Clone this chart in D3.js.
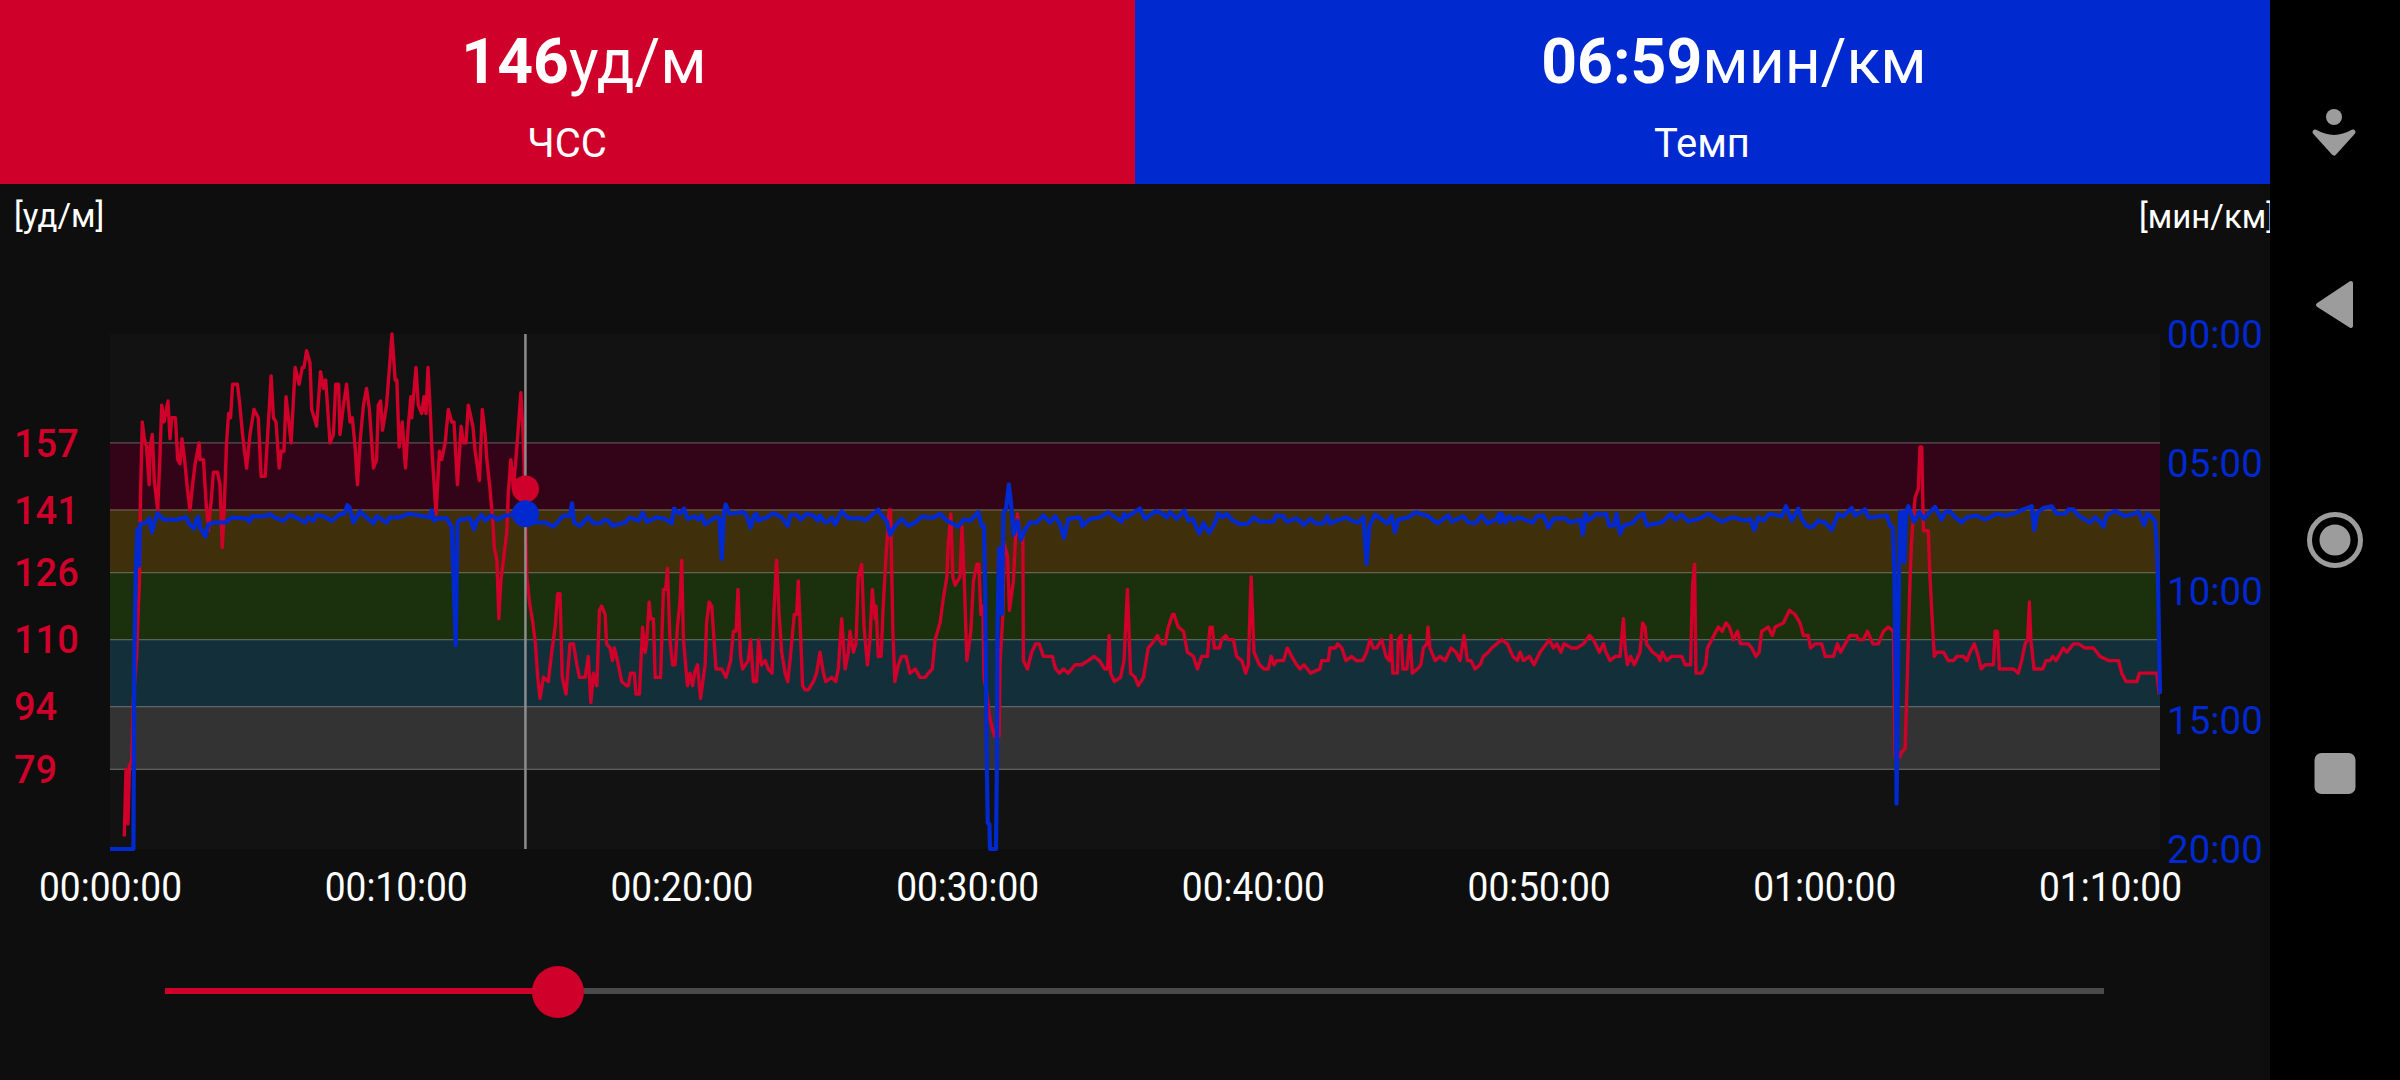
<!DOCTYPE html>
<html>
<head>
<meta charset="utf-8">
<script src="https://cdn.jsdelivr.net/npm/d3@7"></script>
<style>
  html, body { margin: 0; background: #0e0e0e; overflow: hidden; }
  svg { display: block; font-family: Roboto, sans-serif; }
</style>
</head>
<body>
<script>
// heart rate zones, from the top edge down to the bottom edge of each band
const zoneEdges = [157, 141, 126, 110, 94, 79];
const zoneColors = ["#330418", "#402f0b", "#1b300c", "#13303a", "#333333"];

const hrTicks = [157, 141, 126, 110, 94, 79];
const paceTicks = [0, 5, 10, 15, 20];
const timeTicks = [0, 10, 20, 30, 40, 50, 60, 70];

// cursor readout
const cursorTime = 14.54;
const cursorHr = 146;
const cursorPace = 6.98;
const duration = 71.75;

// [minutes, bpm]
const hrData = [
  [0.50,63],[0.56,79],[0.63,66],[0.68,80],[0.76,81],[0.82,96],[0.93,106],[1.03,124],[1.07,145],[1.13,162],
  [1.20,158],[1.28,156],[1.37,147],[1.40,156],[1.48,159],[1.55,148],[1.67,141],[1.75,154],[1.81,166],[1.89,162],
  [2.03,167],[2.10,158],[2.16,163],[2.29,163],[2.37,153],[2.45,152],[2.52,158],[2.61,153],[2.71,146],[2.80,141],
  [2.89,147],[2.98,152],[3.12,157],[3.15,153],[3.27,153],[3.36,143],[3.44,136],[3.54,143],[3.62,150],[3.76,150],
  [3.85,147],[3.93,132],[3.99,140],[4.08,157],[4.15,164],[4.22,163],[4.29,171],[4.46,171],[4.53,167],[4.64,159],
  [4.78,151],[4.90,159],[5.04,165],[5.19,163],[5.29,149],[5.43,149],[5.52,159],[5.64,173],[5.72,163],[5.81,162],
  [5.92,151],[5.99,155],[6.09,155],[6.16,168],[6.34,157],[6.48,175],[6.62,171],[6.73,175],[6.79,175],[6.88,179],
  [7.00,176],[7.06,165],[7.23,161],[7.37,174],[7.47,170],[7.55,172],[7.70,157],[7.82,159],[7.90,171],[8.00,171],
  [8.05,159],[8.17,166],[8.28,171],[8.40,162],[8.48,163],[8.58,156],[8.66,147],[8.75,157],[8.87,166],[8.98,170],
  [9.08,165],[9.22,151],[9.33,153],[9.39,166],[9.47,167],[9.54,160],[9.68,166],[9.78,175],[9.87,183],[9.98,172],
  [10.04,172],[10.12,156],[10.23,162],[10.34,151],[10.44,161],[10.53,168],[10.56,163],[10.71,175],[10.79,166],[10.91,164],
  [10.99,168],[11.06,164],[11.13,175],[11.20,166],[11.27,155],[11.41,140],[11.53,155],[11.61,153],[11.73,157],[11.84,165],
  [11.96,162],[12.04,162],[12.16,147],[12.29,161],[12.37,157],[12.46,157],[12.54,166],[12.70,161],[12.78,155],[12.93,148],
  [13.03,165],[13.13,159],[13.19,153],[13.30,146],[13.40,138],[13.45,132],[13.54,129],[13.61,115],[13.68,124],[13.77,129],
  [13.89,136],[13.94,145],[14.03,153],[14.12,146],[14.24,156],[14.38,169],[14.45,160],[14.49,153],[14.59,125],[14.68,119],
  [14.80,114],[14.89,109],[14.97,101],[15.05,96],[15.17,101],[15.34,100],[15.46,107],[15.58,113],[15.67,121],[15.75,121],
  [15.83,101],[15.96,97],[16.10,109],[16.22,109],[16.34,104],[16.43,101],[16.63,101],[16.74,106],[16.83,95],[16.92,102],
  [17.04,99],[17.13,117],[17.21,118],[17.33,116],[17.38,109],[17.50,108],[17.59,105],[17.65,108],[17.76,105],[17.91,100],
  [18.08,99],[18.14,99],[18.22,102],[18.35,102],[18.41,97],[18.53,97],[18.64,113],[18.73,107],[18.78,109],[18.87,119],
  [18.92,115],[19.02,115],[19.08,101],[19.27,101],[19.37,122],[19.45,122],[19.51,127],[19.60,110],[19.69,104],[19.78,104],
  [19.86,113],[19.95,119],[20.01,129],[20.07,110],[20.21,99],[20.30,102],[20.39,99],[20.46,102],[20.56,104],[20.67,96],
  [20.83,104],[20.88,114],[20.97,119],[21.06,118],[21.21,103],[21.41,103],[21.56,101],[21.72,105],[21.82,112],[21.91,112],
  [21.98,122],[22.07,106],[22.14,103],[22.34,105],[22.42,110],[22.52,100],[22.63,100],[22.70,110],[22.80,104],[22.93,105],
  [23.04,103],[23.17,102],[23.24,117],[23.33,129],[23.42,116],[23.51,107],[23.63,102],[23.72,100],[23.80,105],[23.95,116],
  [24.03,116],[24.09,124],[24.19,108],[24.24,99],[24.33,98],[24.44,98],[24.62,100],[24.73,102],[24.85,107],[24.97,102],
  [25.05,100],[25.26,101],[25.40,100],[25.49,103],[25.55,109],[25.61,115],[25.73,103],[25.84,107],[25.90,112],[26.02,107],
  [26.11,109],[26.19,125],[26.31,128],[26.39,113],[26.51,104],[26.60,110],[26.68,122],[26.78,115],[26.81,118],[26.89,106],
  [26.99,106],[27.07,119],[27.16,130],[27.27,141],[27.32,141],[27.40,112],[27.47,100],[27.59,104],[27.71,106],[27.86,106],
  [28.00,102],[28.18,103],[28.35,101],[28.53,101],[28.64,102],[28.78,103],[28.88,110],[29.05,114],[29.17,120],[29.29,125],
  [29.34,133],[29.43,140],[29.50,125],[29.58,123],[29.75,125],[29.82,137],[29.90,124],[29.99,105],[30.13,112],[30.22,124],
  [30.34,128],[30.41,128],[30.48,116],[30.55,118],[30.59,101],[30.69,97],[30.80,91],[30.95,87],[31.12,87],[31.15,104],
  [31.25,116],[31.29,133],[31.41,130],[31.48,117],[31.56,121],[31.62,124],[31.69,134],[31.76,140],[31.85,135],[31.95,135],
  [31.97,105],[32.11,103],[32.26,107],[32.40,109],[32.52,109],[32.67,106],[32.98,106],[33.10,103],[33.23,102],[33.37,103],
  [33.54,102],[33.78,104],[34.01,104],[34.24,105],[34.44,106],[34.63,105],[34.81,103],[34.91,103],[34.97,111],[35.02,102],
  [35.15,100],[35.37,101],[35.49,105],[35.61,122],[35.72,102],[35.88,101],[35.99,99],[36.17,101],[36.34,108],[36.46,109],
  [36.66,111],[36.81,109],[36.93,109],[37.04,113],[37.19,116],[37.24,116],[37.39,113],[37.57,112],[37.71,107],[37.92,106],
  [38.06,103],[38.21,106],[38.41,106],[38.50,113],[38.58,113],[38.65,108],[38.83,108],[38.91,110],[39.05,111],[39.14,110],
  [39.32,110],[39.43,106],[39.61,105],[39.75,102],[39.84,104],[39.94,125],[40.04,107],[40.23,104],[40.39,103],[40.54,103],
  [40.64,106],[40.74,104],[40.83,105],[41.07,105],[41.21,108],[41.36,106],[41.53,104],[41.65,103],[41.79,104],[42.02,102],
  [42.35,103],[42.41,105],[42.64,105],[42.70,108],[42.88,108],[42.97,109],[43.11,108],[43.26,105],[43.46,106],[43.61,105],
  [43.84,105],[43.98,107],[44.10,110],[44.22,108],[44.33,108],[44.51,110],[44.66,106],[44.78,105],[44.84,111],[44.90,102],
  [45.06,102],[45.09,110],[45.19,111],[45.25,103],[45.39,103],[45.50,111],[45.58,102],[45.76,103],[45.88,104],[45.97,108],
  [46.09,109],[46.13,113],[46.20,108],[46.38,105],[46.55,106],[46.73,105],[46.94,108],[47.11,107],[47.25,105],[47.39,111],
  [47.51,105],[47.63,105],[47.78,103],[47.95,104],[48.07,106],[48.24,107],[48.36,108],[48.54,109],[48.71,110],[48.91,109],
  [49.10,106],[49.26,105],[49.35,107],[49.47,105],[49.68,106],[49.84,104],[50.05,107],[50.38,110],[50.52,108],[50.64,109],
  [50.78,107],[50.89,109],[51.16,108],[51.34,108],[51.57,109],[51.78,111],[51.92,110],[52.13,107],[52.27,109],[52.36,107],
  [52.50,105],[52.68,106],[52.85,106],[52.97,115],[53.03,108],[53.11,104],[53.22,106],[53.35,104],[53.55,107],[53.64,114],
  [53.73,113],[53.78,109],[53.99,107],[54.19,106],[54.25,105],[54.33,107],[54.48,105],[54.66,106],[55.01,106],[55.13,104],
  [55.32,104],[55.39,123],[55.46,128],[55.51,102],[55.71,102],[55.85,104],[55.91,108],[56.06,110],[56.29,113],[56.43,112],
  [56.56,114],[56.68,113],[56.82,110],[56.96,112],[57.07,109],[57.34,109],[57.46,108],[57.61,106],[57.72,107],[57.81,112],
  [58.04,113],[58.18,111],[58.28,113],[58.57,114],[58.78,117],[58.98,116],[59.15,114],[59.27,111],[59.44,111],[59.52,108],
  [59.68,109],[59.91,109],[60.03,106],[60.32,106],[60.46,109],[60.57,107],[60.73,109],[60.90,111],[61.13,111],[61.19,110],
  [61.37,110],[61.51,112],[61.70,109],[61.89,109],[62.07,112],[62.24,113],[62.42,112],[62.48,82],[62.65,82],[62.69,83],
  [62.83,84],[62.91,102],[63.00,124],[63.06,134],[63.18,144],[63.29,146],[63.35,156],[63.41,156],[63.47,136],[63.64,136],
  [63.70,125],[63.76,117],[63.85,106],[63.94,107],[64.17,107],[64.34,105],[64.52,105],[64.64,106],[64.87,106],[64.99,105],
  [65.10,107],[65.25,109],[65.39,106],[65.49,103],[65.63,104],[65.92,104],[65.98,112],[66.06,112],[66.13,103],[66.62,103],
  [66.79,102],[66.91,105],[67.03,109],[67.12,110],[67.18,119],[67.23,110],[67.34,103],[67.65,103],[67.76,105],[67.90,105],
  [68.00,106],[68.11,105],[68.37,108],[68.49,107],[68.72,109],[68.89,109],[69.13,108],[69.42,108],[69.54,107],[69.65,106],
  [69.95,105],[70.30,105],[70.41,102],[70.56,100],[70.94,100],[71.03,102],[71.64,102],[71.72,97]
];

// [minutes, pace in min/km]
const paceData = [
  [0,20],[0.82,20],[0.85,12.82],[0.90,9.33],[0.96,7.60],[1.02,9.00],[1.05,7.39],[1.28,7.32],[1.38,7.16],[1.46,7.69],
  [1.66,6.96],[1.87,7.21],[2.10,7.21],[2.33,7.21],[2.66,7.12],[2.78,7.39],[2.94,7.56],[3.03,7.18],[3.10,7.12],[3.15,7.52],
  [3.34,7.86],[3.44,7.39],[3.68,7.32],[4.03,7.32],[4.26,7.13],[4.78,7.16],[4.88,7.29],[4.96,7.08],[5.37,7.08],[5.60,7.00],
  [5.78,7.14],[6.07,7.25],[6.30,7.02],[6.53,7.14],[6.83,7.32],[6.94,7.12],[7.12,7.25],[7.23,7.02],[7.47,7.08],[7.76,7.25],
  [8.05,7.00],[8.20,6.98],[8.31,6.65],[8.38,6.72],[8.52,7.32],[8.75,6.89],[8.98,7.13],[9.22,7.35],[9.33,7.08],[9.68,7.32],
  [9.80,7.12],[10.15,7.12],[10.44,6.98],[10.68,7.02],[11.20,7.12],[11.26,6.85],[11.34,7.25],[11.49,7.16],[11.79,7.16],[11.96,7.52],
  [12.02,9.33],[12.10,12.08],[12.16,7.32],[12.25,7.21],[12.60,7.16],[12.74,7.59],[12.84,7.25],[13.01,7.02],[13.13,7.25],[13.33,7.05],
  [13.59,7.21],[13.83,7.05],[14.12,7.02],[14.54,6.98],[14.82,7.32],[15.23,7.32],[15.52,7.48],[15.87,7.05],[16.10,7.05],[16.17,6.58],
  [16.24,7.32],[16.45,7.45],[16.74,7.12],[16.92,7.35],[17.15,7.35],[17.33,7.21],[17.44,7.25],[17.59,7.45],[18.03,7.32],[18.20,7.12],
  [18.49,7.25],[18.64,6.94],[18.78,7.29],[19.13,7.12],[19.43,7.18],[19.66,7.35],[19.74,6.78],[19.93,6.98],[20.09,6.78],[20.21,7.18],
  [20.48,7.08],[20.59,7.21],[20.71,7.05],[20.83,7.39],[21.23,7.09],[21.33,7.18],[21.41,8.73],[21.49,6.92],[21.55,6.62],[21.68,6.98],
  [22.17,6.92],[22.28,7.05],[22.42,7.52],[22.54,7.05],[22.63,6.98],[22.69,7.25],[22.98,7.12],[23.22,6.96],[23.51,7.12],[23.72,7.45],
  [23.82,7.02],[24.03,7.02],[24.17,7.21],[24.38,6.98],[24.62,7.05],[24.76,7.25],[24.85,7.05],[25.03,7.32],[25.18,7.25],[25.26,7.12],
  [25.38,7.39],[25.61,6.89],[25.84,7.16],[26.31,7.16],[26.43,7.25],[26.72,6.98],[26.89,6.82],[27.01,7.05],[27.18,7.25],[27.30,7.79],
  [27.48,7.45],[27.71,7.18],[27.94,7.45],[28.18,7.32],[28.41,7.09],[28.82,7.14],[29.05,6.98],[29.29,7.25],[29.69,7.48],[29.87,7.21],
  [30.10,7.25],[30.39,6.92],[30.51,7.45],[30.59,7.45],[30.63,9.87],[30.69,16.84],[30.72,18.98],[30.78,19.05],[30.80,20],[31.01,20],
  [31.04,16.84],[31.06,11.47],[31.12,8.32],[31.21,10.87],[31.27,6.92],[31.36,6.78],[31.46,5.84],[31.53,6.51],[31.62,7.79],[31.76,7.25],
  [31.88,7.99],[32.03,7.59],[32.20,7.32],[32.44,7.32],[32.67,7.05],[32.90,7.32],[33.08,7.08],[33.25,7.39],[33.39,7.92],[33.54,7.18],
  [33.95,7.12],[34.03,7.45],[34.30,7.18],[34.65,7.12],[34.94,6.92],[35.18,7.12],[35.41,7.29],[35.49,6.98],[35.58,7.12],[36.05,6.78],
  [36.23,7.18],[36.58,6.89],[36.75,6.92],[36.98,7.12],[37.10,6.92],[37.33,7.18],[37.60,6.85],[37.74,7.25],[37.89,7.18],[38.13,7.75],
  [38.27,7.35],[38.47,7.72],[38.68,7.32],[38.79,6.96],[38.94,7.12],[39.08,6.98],[39.26,7.21],[39.55,7.39],[39.84,7.36],[40.02,7.12],
  [40.25,7.29],[40.72,7.29],[40.81,7.05],[41.07,7.08],[41.18,7.29],[41.53,7.16],[41.79,7.41],[42.00,7.18],[42.23,7.36],[42.47,7.36],
  [42.61,7.08],[42.70,7.35],[43.28,7.12],[43.46,7.25],[43.69,7.32],[43.87,7.12],[43.98,8.93],[44.08,7.45],[44.28,7.02],[44.69,7.35],
  [44.86,7.08],[44.97,7.69],[45.09,7.21],[45.44,7.12],[45.71,6.92],[46.14,7.08],[46.46,7.35],[46.84,7.05],[46.96,7.29],[47.37,7.08],
  [47.54,7.32],[47.78,7.35],[48.01,7.05],[48.21,7.35],[48.54,7.18],[48.62,6.98],[48.65,7.32],[48.71,6.98],[48.83,7.32],[48.98,7.08],
  [49.12,7.25],[49.29,7.12],[49.80,7.32],[49.94,7.08],[50.17,7.05],[50.34,7.52],[50.52,7.18],[50.93,7.16],[51.10,7.32],[51.45,7.21],
  [51.55,7.79],[51.64,6.98],[51.74,7.25],[52.04,6.98],[52.15,7.02],[52.36,6.98],[52.48,7.45],[52.64,7.43],[52.73,6.98],[52.85,7.75],
  [52.97,7.45],[53.32,7.32],[53.49,7.08],[53.67,6.98],[53.78,7.43],[54.31,7.32],[54.64,6.98],[54.78,7.21],[55.01,7.02],[55.24,7.28],
  [55.65,7.16],[55.94,6.98],[56.41,7.29],[56.79,7.12],[57.23,7.25],[57.40,7.18],[57.55,7.61],[57.69,7.12],[57.87,7.25],[58.08,6.98],
  [58.51,7.08],[58.66,6.69],[58.86,7.25],[59.09,6.78],[59.21,7.18],[59.38,7.45],[59.56,7.52],[59.79,7.25],[60.03,7.32],[60.26,7.61],
  [60.49,6.98],[60.67,7.08],[60.96,6.76],[61.08,7.05],[61.43,6.81],[61.54,7.12],[61.66,7.12],[62.19,7.05],[62.30,7.45],[62.40,7.52],
  [62.45,9.20],[62.51,14.16],[62.53,18.24],[62.57,14.16],[62.62,8.79],[62.65,6.92],[62.71,8.79],[62.77,6.92],[62.80,8.86],[62.86,6.92],
  [62.94,6.69],[63.14,7.29],[63.33,6.92],[63.49,7.18],[63.64,6.98],[63.88,6.72],[64.11,7.21],[64.23,6.92],[64.40,6.89],[64.58,7.12],
  [64.81,7.32],[64.99,7.12],[65.34,7.05],[65.63,7.21],[66.04,6.98],[66.33,7.05],[66.62,6.98],[66.97,6.81],[67.26,6.69],[67.35,7.61],
  [67.46,6.94],[67.67,6.76],[67.96,6.69],[68.14,6.98],[68.43,6.98],[68.54,6.81],[68.72,6.81],[68.89,7.05],[69.30,7.32],[69.48,7.12],
  [69.65,7.29],[69.77,7.49],[69.88,7.03],[70.18,6.87],[70.53,7.07],[70.70,7.03],[71.00,6.90],[71.20,7.42],[71.31,6.95],[71.58,7.26],
  [71.64,8.27],[71.68,9.56],[71.75,13.96]
];

const RED = "#cf0029";
const BLUE = "#0029cf";

const svg = d3.select("body").append("svg")
  .attr("width", 2400)
  .attr("height", 1080);

// scales
const x = d3.scaleLinear().domain([0, 70]).range([110, 2110]);
const yHr = d3.scaleLinear().domain([60, 183]).range([849, 334]);
const yPace = d3.scaleLinear().domain([0, 20]).range([334, 849]);

// format helpers
const pad = (n) => String(n).padStart(2, "0");
const fmtTime = (m) => `${pad(Math.floor(m / 60))}:${pad(m % 60)}:00`;
const fmtPace = (m) => `${pad(m)}:00`;

// header panels, the value line sits right of the panel centre
const panels = [
  { x: 0, w: 1135, fill: RED, big: "146", unit: "уд/м", label: "ЧСС", valueX: 584, labelX: 567 },
  { x: 1135, w: 1135, fill: BLUE, big: "06:59", unit: "мин/км", label: "Темп", valueX: 1734, labelX: 1702 }
];

panels.forEach((p) => {
  svg.append("rect")
    .attr("x", p.x).attr("y", 0)
    .attr("width", p.w).attr("height", 184)
    .attr("fill", p.fill);

  const value = svg.append("text")
    .attr("x", p.valueX).attr("y", 83)
    .attr("text-anchor", "middle")
    .attr("fill", "#fff")
    .attr("font-size", 62.5);
  value.append("tspan").attr("font-weight", 700).text(p.big);
  value.append("tspan").text(p.unit);

  svg.append("text")
    .attr("x", p.labelX).attr("y", 157)
    .attr("text-anchor", "middle")
    .attr("fill", "#fff")
    .attr("font-size", 40)
    .text(p.label);
});

// unit labels
svg.append("text").attr("x", 14).attr("y", 227)
  .attr("fill", "#fff").attr("font-size", 33).text("[уд/м]");
svg.append("text").attr("x", 2139).attr("y", 228)
  .attr("fill", "#fff").attr("font-size", 33).text("[мин/км]");

// plot background
svg.append("rect")
  .attr("x", x(0)).attr("y", yHr(183))
  .attr("width", x(duration) - x(0))
  .attr("height", yHr(60) - yHr(183))
  .attr("fill", "#121212");

// zones
zoneColors.forEach((c, i) => {
  svg.append("rect")
    .attr("x", x(0)).attr("y", yHr(zoneEdges[i]))
    .attr("width", x(duration) - x(0))
    .attr("height", yHr(zoneEdges[i + 1]) - yHr(zoneEdges[i]))
    .attr("fill", c);
});

svg.selectAll(".zone-line")
  .data(zoneEdges)
  .join("line")
  .attr("class", "zone-line")
  .attr("x1", x(0)).attr("x2", x(duration))
  .attr("y1", (d) => yHr(d)).attr("y2", (d) => yHr(d))
  .attr("stroke", "#fff")
  .attr("stroke-opacity", 0.28)
  .attr("stroke-width", 1.2);

// axes, only the labels are visible
const axisLeft = d3.axisLeft(yHr).tickValues(hrTicks).tickSize(0);
const gLeft = svg.append("g").attr("transform", "translate(14,0)").call(axisLeft);
gLeft.select(".domain").remove();
gLeft.selectAll("text")
  .attr("x", 0).attr("dy", "0.35em")
  .attr("text-anchor", "start")
  .attr("fill", RED)
  .attr("font-size", 38)
  .attr("font-family", "Roboto")
  .attr("font-weight", 500);

const axisRight = d3.axisRight(yPace).tickValues(paceTicks).tickFormat(fmtPace).tickSize(0);
const gRight = svg.append("g").attr("transform", "translate(2167,0)").call(axisRight);
gRight.select(".domain").remove();
gRight.selectAll("text")
  .attr("x", 0).attr("dy", "0.35em")
  .attr("fill", BLUE)
  .attr("font-size", 38.5)
  .attr("font-family", "Roboto");

// the time labels are narrower than plain Roboto, so squeeze them to the reference width
const axisBottom = d3.axisBottom(x).tickValues(timeTicks).tickFormat(fmtTime).tickSize(0);
const gBottom = svg.append("g").attr("transform", "translate(0,901)").call(axisBottom);
gBottom.select(".domain").remove();
gBottom.selectAll("text")
  .attr("y", 0).attr("dy", 0)
  .attr("fill", "#fff")
  .attr("font-size", 40)
  .attr("font-family", "Roboto")
  .attr("textLength", 143)
  .attr("lengthAdjust", "spacingAndGlyphs");

// series
const hrLine = d3.line().x((d) => x(d[0])).y((d) => yHr(d[1]));
const paceLine = d3.line().x((d) => x(d[0])).y((d) => yPace(d[1]));

svg.append("path")
  .attr("d", hrLine(hrData))
  .attr("fill", "none")
  .attr("stroke", RED)
  .attr("stroke-width", 3.4)
  .attr("stroke-linejoin", "round");

svg.append("path")
  .attr("d", paceLine(paceData))
  .attr("fill", "none")
  .attr("stroke", BLUE)
  .attr("stroke-width", 4.2)
  .attr("stroke-linejoin", "round");

// cursor
svg.append("line")
  .attr("x1", x(cursorTime)).attr("x2", x(cursorTime))
  .attr("y1", yHr(183)).attr("y2", yHr(60))
  .attr("stroke", "#8c8c8c")
  .attr("stroke-width", 2.5);

svg.append("circle")
  .attr("cx", x(cursorTime)).attr("cy", yHr(cursorHr))
  .attr("r", 13.5).attr("fill", RED);
svg.append("circle")
  .attr("cx", x(cursorTime)).attr("cy", yPace(cursorPace))
  .attr("r", 13.5).attr("fill", BLUE);

// slider
const slider = d3.scaleLinear().domain([0, duration]).range([165, 2104]);

svg.append("line")
  .attr("x1", slider(0)).attr("x2", slider(duration))
  .attr("y1", 991).attr("y2", 991)
  .attr("stroke", "#4a4a4a").attr("stroke-width", 6);
svg.append("line")
  .attr("x1", slider(0)).attr("x2", slider(cursorTime))
  .attr("y1", 991).attr("y2", 991)
  .attr("stroke", RED).attr("stroke-width", 6);
svg.append("circle")
  .attr("cx", slider(cursorTime)).attr("cy", 992)
  .attr("r", 26).attr("fill", RED);

// android nav bar
svg.append("rect")
  .attr("x", 2270).attr("y", 0)
  .attr("width", 130).attr("height", 1080)
  .attr("fill", "#000");

const NAV = "#9c9c9c";
svg.append("circle").attr("cx", 2334).attr("cy", 117).attr("r", 8).attr("fill", NAV);
svg.append("path")
  .attr("d", "M2315,132 Q2334,143 2353,132 L2334,153 Z")
  .attr("fill", NAV).attr("stroke", NAV).attr("stroke-width", 5).attr("stroke-linejoin", "round");
svg.append("path")
  .attr("d", "M2351,283 L2318,305 L2351,326 Z")
  .attr("fill", NAV).attr("stroke", NAV).attr("stroke-width", 4).attr("stroke-linejoin", "round");
svg.append("circle").attr("cx", 2335).attr("cy", 540).attr("r", 25.5)
  .attr("fill", "none").attr("stroke", NAV).attr("stroke-width", 5);
svg.append("circle").attr("cx", 2335).attr("cy", 540).attr("r", 15.5).attr("fill", NAV);
svg.append("rect")
  .attr("x", 2314.5).attr("y", 753)
  .attr("width", 41).attr("height", 41)
  .attr("rx", 7).attr("fill", NAV);
</script>
</body>
</html>
